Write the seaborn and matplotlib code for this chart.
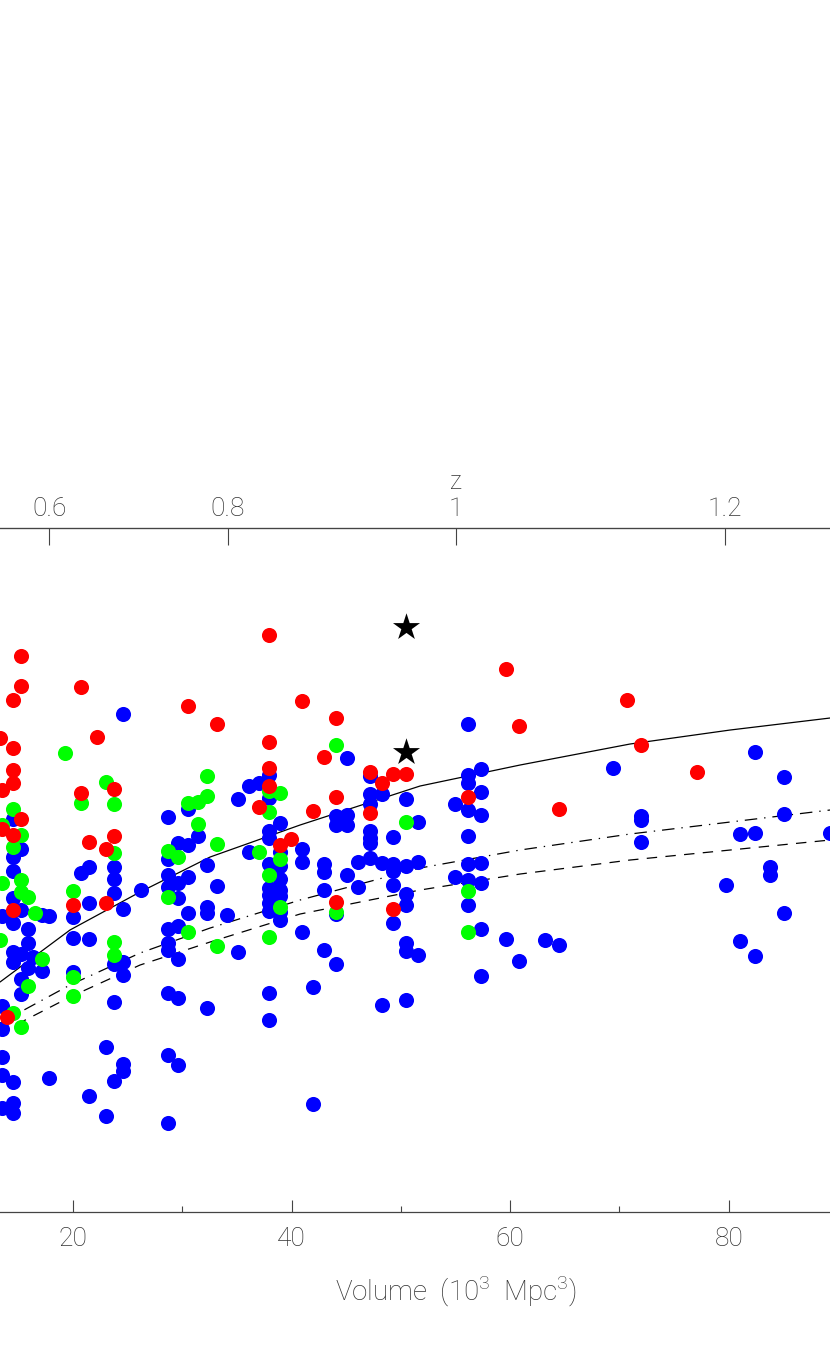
import numpy as np
import pandas as pd
import matplotlib
matplotlib.use("Agg")
import matplotlib.pyplot as plt
import seaborn as sns

# ---- data (Volume in 10^3 Mpc^3, y in arbitrary units) ----
blue_vol = [24.58, 28.70, 30.53, 31.45, 30.53, 29.61, 28.70, 32.27, 14.52, 15.25, 14.52, 14.52,
            21.47, 20.74, 23.76, 23.76, 23.76, 26.23, 28.70, 28.70, 29.61, 30.53, 29.61, 14.52,
            15.25, 14.52, 13.51, 17.17, 17.82, 21.47, 20.01, 24.58, 30.53, 28.70, 29.61, 15.89,
            15.89, 20.01, 21.47, 14.52, 15.25, 14.52, 16.35, 15.89, 17.17, 15.25, 15.25, 13.51,
            13.51, 20.01, 23.76, 24.58, 24.58, 28.70, 28.70, 29.61, 23.76, 28.70, 29.61, 32.27,
            23.04, 28.70, 29.61, 24.58, 24.58, 23.76, 17.82, 14.52, 13.51, 14.52, 14.52, 13.51,
            21.47, 23.04, 28.70, 13.51,
            45.08, 37.94, 36.11, 37.03, 35.11, 37.94, 47.18, 47.18, 47.18, 48.28, 50.48, 44.07,
            45.08, 44.07, 45.08, 38.95, 37.94, 37.94, 47.18, 47.18, 47.18, 49.29, 51.57, 36.11,
            38.95, 40.96, 40.96, 37.94, 38.95, 42.97, 42.97, 45.08, 46.09, 47.18, 48.28, 49.29,
            49.29, 50.48, 51.57, 38.95, 37.94, 38.95, 37.94, 38.95, 33.19, 42.97, 46.09, 49.29,
            50.48, 50.48, 32.27, 32.27, 34.10, 37.94, 37.94, 38.95, 38.95, 44.07, 49.29, 40.96,
            35.11, 42.97, 44.07, 50.48, 50.48, 51.57, 41.97, 37.94, 37.94, 48.28, 50.48, 41.97,
            56.15, 69.41, 56.15, 57.34, 56.15, 57.34, 54.95, 56.15, 57.34, 56.15, 56.15, 57.34,
            54.95, 56.15, 57.34, 56.15, 57.34, 59.62, 63.19, 64.47, 60.81, 57.34,
            82.41, 85.06, 71.98, 71.98, 71.98, 85.06, 81.03, 82.41, 89.27, 83.78, 83.78, 79.75,
            85.06, 81.03, 82.41]
blue_y = [49.8, 39.5, 40.3, 37.6, 36.7, 36.9, 35.3, 34.7, 39.3, 36.3, 35.5, 34.1,
          34.5, 33.9, 34.5, 33.3, 31.9, 32.2, 33.7, 32.5, 32.9, 33.5, 31.4, 31.4,
          30.2, 28.9, 29.6, 29.7, 29.6, 30.9, 29.5, 30.3, 29.9, 28.3, 28.6, 28.3,
          26.9, 27.4, 27.3, 26.0, 25.8, 25.0, 25.5, 24.4, 24.1, 23.3, 21.8, 20.6,
          18.3, 24.0, 24.8, 25.0, 23.7, 26.9, 26.2, 25.3, 21.0, 21.9, 21.4, 20.4,
          16.5, 15.7, 14.7, 14.8, 14.1, 13.1, 13.4, 13.0, 13.7, 10.9, 9.9, 10.4,
          11.6, 9.6, 8.9, 15.5,
          45.4, 43.7, 42.6, 42.9, 41.3, 41.4, 43.6, 41.8, 40.8, 41.8, 41.3, 39.6,
          39.7, 38.7, 38.7, 38.9, 38.1, 37.4, 38.1, 37.4, 36.9, 37.5, 39.0, 36.0,
          36.0, 36.3, 35.0, 34.8, 34.6, 34.8, 34.0, 33.7, 35.0, 35.4, 34.9, 34.8,
          34.1, 34.6, 35.0, 33.3, 32.4, 32.2, 31.7, 31.6, 32.6, 32.2, 32.5, 32.7,
          31.8, 30.7, 30.5, 29.9, 29.7, 30.9, 30.1, 30.0, 29.2, 29.8, 28.9, 28.0,
          26.0, 26.2, 24.8, 26.9, 26.1, 25.7, 22.5, 21.9, 19.2, 20.7, 21.2, 10.8,
          48.8, 44.4, 43.7, 44.3, 42.9, 42.0, 40.8, 40.2, 39.7, 37.6, 34.8, 34.9,
          33.5, 33.2, 32.9, 30.7, 28.3, 27.3, 27.2, 26.7, 25.1, 23.6,
          46.0, 43.5, 39.6, 39.2, 37.0, 39.8, 37.8, 37.9, 37.9, 34.5, 33.7, 32.7,
          29.9, 27.1, 25.6]

green_vol = [19.27, 23.04, 20.74, 23.76, 32.27, 14.52, 13.51, 15.25, 14.52, 23.76, 15.25, 13.51,
             15.25, 15.89, 16.54, 20.01, 28.70, 29.61, 28.70, 30.53, 31.45, 31.45, 30.53, 32.27,
             23.76, 23.76, 17.17, 15.89, 20.01, 20.01, 14.52, 15.25, 13.33,
             37.94, 38.95, 37.94, 44.07, 33.19, 37.03, 38.95, 37.94, 38.95, 37.94, 33.19, 44.07,
             50.48, 56.15, 56.15]
green_y = [45.9, 43.0, 40.9, 40.8, 43.6, 40.3, 38.7, 37.7, 36.5, 35.9, 33.2, 32.9,
           32.0, 31.5, 29.9, 32.1, 36.1, 35.5, 31.5, 28.0, 38.8, 41.0, 40.9, 41.6,
           27.0, 25.7, 25.3, 22.6, 23.5, 21.6, 19.9, 18.5, 27.2,
           42.1, 41.9, 40.0, 46.7, 36.8, 36.0, 35.3, 33.7, 30.5, 27.5, 26.6, 30.0,
           39.0, 32.1, 28.0]

red_vol = [15.25, 15.25, 14.52, 20.74, 30.53, 22.21, 14.52, 13.33, 14.52, 14.52, 13.51, 20.74,
           23.76, 15.25, 13.51, 14.52, 21.47, 23.76, 23.04, 20.01, 23.04, 14.52, 13.97,
           37.94, 40.96, 33.19, 44.07, 37.94, 42.97, 37.94, 37.94, 47.18, 48.28, 49.29, 50.48,
           37.03, 44.07, 41.97, 47.18, 38.95, 39.95, 44.07, 49.29,
           59.62, 60.81, 70.69, 56.15, 64.47, 71.98, 77.10]
red_y = [55.6, 52.6, 51.2, 52.5, 50.6, 47.5, 46.4, 47.4, 44.2, 42.9, 42.2, 41.9,
         42.3, 39.3, 38.3, 37.7, 37.0, 37.6, 36.3, 30.7, 30.9, 30.2, 19.5,
         57.7, 51.1, 48.8, 49.4, 47.0, 45.5, 44.4, 42.6, 44.0, 42.9, 43.8, 43.8,
         40.5, 41.5, 40.1, 39.9, 36.7, 37.3, 31.0, 30.3,
         54.3, 48.6, 51.2, 41.5, 40.3, 46.7, 44.0]

star_vol = [50.48, 50.48]
star_y = [58.5, 46.0]

# model curves, points
curve_vol = [13.33, 19.73, 26.14, 32.55, 40.78, 51.76, 60.91, 70.97, 80.13, 89.27]
solid_y = [23.0, 28.2, 32.0, 35.5, 38.7, 42.6, 44.7, 46.8, 48.2, 49.4]
dashdot_y = [18.9, 22.7, 25.9, 28.4, 31.2, 34.4, 36.2, 37.8, 39.0, 40.2]
dashed_y = [17.9, 21.5, 24.7, 27.0, 29.8, 32.2, 33.8, 35.2, 36.2, 37.2]

vol_major = [20, 40, 60, 80]
vol_minor = [10, 30, 50, 70, 90]
z_labels = ["0.6", "0.8", "1", "1.2"]
z_tick_vol = [17.82, 34.19, 55.05, 79.66]

sns.set_style("white")
plt.rcParams["font.family"] = ["Roboto", "DejaVu Sans"]
plt.rcParams["lines.scale_dashes"] = False
plt.rcParams["mathtext.fontset"] = "custom"
plt.rcParams["mathtext.rm"] = "Roboto:light"
grey = "#444444"
txt = "#333333"

fig = plt.figure(figsize=(8.3, 13.64), dpi=100)
# the reference is a crop: the axes run past both side edges of the figure
ax = fig.add_axes([-0.1097, 0.1114, 1.3169, 0.5015])

df_b = pd.DataFrame({"vol": blue_vol, "y": blue_y})
df_g = pd.DataFrame({"vol": green_vol, "y": green_y})
df_r = pd.DataFrame({"vol": red_vol, "y": red_y})
df_c = pd.DataFrame({"vol": curve_vol, "solid": solid_y, "dashdot": dashdot_y, "dashed": dashed_y})

dot = 118
sns.scatterplot(data=df_b, x="vol", y="y", color="#0000ff", s=dot, linewidth=0, ax=ax, zorder=3)
sns.scatterplot(data=df_g, x="vol", y="y", color="#00ff00", s=dot, linewidth=0, ax=ax, zorder=3)
sns.scatterplot(data=df_r, x="vol", y="y", color="#ff0000", s=dot, linewidth=0, ax=ax, zorder=3)
sns.scatterplot(x=star_vol, y=star_y, color="black", marker="*", s=420, linewidth=0, ax=ax, zorder=4)

sns.lineplot(data=df_c, x="vol", y="solid", color="black", lw=0.9, sort=False, estimator=None, ax=ax, zorder=2)
sns.lineplot(data=df_c, x="vol", y="dashdot", color="black", lw=0.9, sort=False, estimator=None, ax=ax,
             zorder=2, linestyle=(0, (9, 5, 1, 5)))
sns.lineplot(data=df_c, x="vol", y="dashed", color="black", lw=0.9, sort=False, estimator=None, ax=ax,
             zorder=2, linestyle=(0, (7.5, 6)))

ax.set_xlim(5, 105)
ax.set_ylim(0, 68.4)
ax.set_xticks(vol_major)
ax.set_xticks(vol_minor, minor=True)
ax.set_yticks([])
ax.tick_params(axis="x", which="major", direction="in", length=9, width=0.8, color=grey,
               labelsize=19, labelcolor=txt, pad=10.5)
ax.tick_params(axis="x", which="minor", direction="in", length=4.5, width=0.8, color=grey, bottom=True)
for lbl in ax.get_xticklabels():
    lbl.set_fontweight("light")
ax.set_xlabel("Volume  (10$^3$  Mpc$^3$)", fontsize=20, color=txt, labelpad=17, fontweight="light")
ax.set_ylabel("")
for side in ["left", "right"]:
    ax.spines[side].set_visible(False)
for side in ["top", "bottom"]:
    ax.spines[side].set_color(grey)
    ax.spines[side].set_linewidth(0.9)

ax2 = ax.twiny()
ax2.set_xlim(ax.get_xlim())
ax2.set_xticks(z_tick_vol)
ax2.set_xticklabels(z_labels)
ax2.tick_params(axis="x", direction="in", length=12, width=0.8, color=grey,
                labelsize=19, labelcolor=txt, pad=5)
for lbl in ax2.get_xticklabels():
    lbl.set_fontweight("light")
ax2.set_xlabel("z", fontsize=18, color=txt, labelpad=6, fontweight="light")
for side in ["left", "right", "bottom"]:
    ax2.spines[side].set_visible(False)
ax2.spines["top"].set_color(grey)

fig.savefig("out.png", dpi=100, facecolor="white")
